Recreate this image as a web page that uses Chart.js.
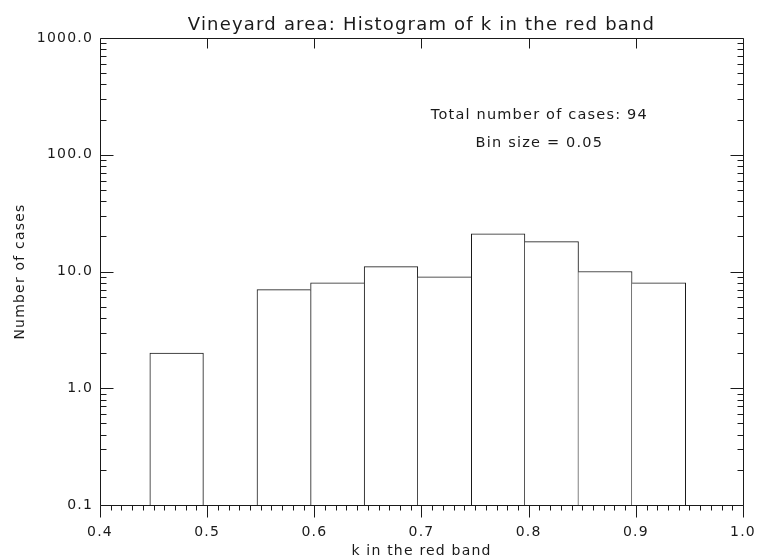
<!DOCTYPE html>
<html>
<head>
<meta charset="utf-8">
<script src="https://cdn.jsdelivr.net/npm/chart.js@4/dist/chart.umd.min.js"></script>
<style>
  html, body { margin: 0; padding: 0; background: #fff; }
  canvas { display: block; }
</style>
</head>
<body>
<canvas id="histo" width="758" height="560"></canvas>
<script>
// histogram bins: lower edge of each bin and number of cases in it
var binSize = 0.05;
var kLower = [0.4465, 0.5465, 0.5965, 0.6465, 0.6965, 0.7465, 0.7965, 0.8465, 0.8965];
var counts = [2, 7, 8, 11, 9, 21, 18, 10, 8];

// axis ticks
var xTicks = [0.4, 0.5, 0.6, 0.7, 0.8, 0.9, 1.0];
var yTicks = [0.1, 1, 10, 100, 1000];

var FONT = "'DejaVu Sans', sans-serif";
var INK = '#1a1a1a';
var SPACING = '1.2px';

var totalCases = counts.reduce(function (a, b) { return a + b; }, 0);

var points = kLower.map(function (k, i) {
    return { x: k + binSize / 2, y: counts[i] };
});

function adjacent(i, j) {
    return Math.abs(kLower[i] + binSize - kLower[j]) < 1e-6;
}

// draw shared bin edges only once, from the taller bar
function barBorder(ctx) {
    var i = ctx.dataIndex;
    if (i === undefined) return 1;
    var h = counts[i];
    var prevAdj = i > 0 && adjacent(i - 1, i);
    var nextAdj = i < counts.length - 1 && adjacent(i, i + 1);
    return {
        top: 1,
        bottom: 0,
        left: (prevAdj && counts[i - 1] >= h) ? 0 : 1,
        right: (nextAdj && counts[i + 1] > h) ? 0 : 1
    };
}

// wide lettering like the old plotting fonts
var spacing = {
    id: 'spacing',
    beforeLayout: function (chart) { chart.ctx.letterSpacing = SPACING; },
    beforeDraw: function (chart) { chart.ctx.letterSpacing = SPACING; }
};

// box and tick marks drawn IDL style
var frame = {
    id: 'frame',
    afterDraw: function (chart) {
        var ctx = chart.ctx;
        var a = chart.chartArea;
        var xs = chart.scales.x, ys = chart.scales.y;
        var L = Math.round(a.left) + 0.5, R = Math.round(a.right) + 0.5;
        var T = Math.round(a.top) + 0.5, B = Math.round(a.bottom) + 0.5;
        ctx.save();
        ctx.strokeStyle = INK;
        ctx.lineWidth = 1;

        ctx.beginPath();
        ctx.rect(L, T, R - L, B - T);
        ctx.stroke();

        // bottom: minor every 0.01, major every 0.1, pointing down
        ctx.beginPath();
        for (var m = 40; m <= 100; m++) {
            var px = Math.round(xs.getPixelForValue(m / 100)) + 0.5;
            var len = (m % 10 === 0) ? 12 : 5;
            ctx.moveTo(px, B);
            ctx.lineTo(px, B + len);
        }
        // top: major only, pointing in
        for (var t = 1; t < xTicks.length - 1; t++) {
            var tx = Math.round(xs.getPixelForValue(xTicks[t])) + 0.5;
            ctx.moveTo(tx, T);
            ctx.lineTo(tx, T + 10);
        }
        ctx.stroke();

        // left and right: decades long, 2..9 short
        ctx.beginPath();
        for (var d = 0; d < yTicks.length; d++) {
            for (var s = 1; s <= 9; s++) {
                var v = yTicks[d] * s;
                if (v > 1000.0001) break;
                var py = Math.round(ys.getPixelForValue(v)) + 0.5;
                var l = (s === 1) ? 13 : 6;
                ctx.moveTo(L, py);
                ctx.lineTo(L + l, py);
                ctx.moveTo(R, py);
                ctx.lineTo(R - l, py);
            }
        }
        ctx.stroke();

        // annotation
        ctx.fillStyle = INK;
        ctx.font = '14.5px ' + FONT;
        ctx.letterSpacing = SPACING;
        ctx.textAlign = 'center';
        ctx.textBaseline = 'middle';
        var cx = xs.getPixelForValue(0.81);
        ctx.fillText('Total number of cases: ' + totalCases, cx, ys.getPixelForValue(220));
        ctx.fillText('Bin size = ' + binSize.toFixed(2), cx, ys.getPixelForValue(126));
        ctx.restore();
    }
};

var chart = new Chart(document.getElementById('histo').getContext('2d'), {
    type: 'bar',
    data: {
        datasets: [{
            data: points,
            backgroundColor: '#ffffff',
            borderColor: INK,
            borderWidth: barBorder,
            borderSkipped: false,
            barPercentage: 1,
            categoryPercentage: 1
        }]
    },
    options: {
        responsive: false,
        animation: false,
        layout: { padding: { left: 0, right: 15, top: 0, bottom: 0 } },
        plugins: {
            legend: { display: false },
            tooltip: { enabled: false },
            title: {
                display: true,
                fullSize: false,
                text: 'Vineyard area: Histogram of k in the red band',
                color: INK,
                font: { family: FONT, size: 18, weight: 'normal' },
                padding: { top: 15, bottom: 1.4 }
            }
        },
        scales: {
            x: {
                type: 'linear',
                offset: false,
                min: 0.4,
                max: 1.0,
                grid: { display: false, drawTicks: false, offset: false },
                border: { display: false },
                afterBuildTicks: function (scale) {
                    scale.ticks = xTicks.map(function (v) { return { value: v }; });
                },
                afterFit: function (scale) {
                    scale.height = 55;
                    scale.paddingLeft = 0;
                    scale.paddingRight = 0;
                },
                ticks: {
                    padding: 19,
                    maxRotation: 0,
                    color: INK,
                    font: { family: FONT, size: 14 },
                    callback: function (v) { return Number(v).toFixed(1); }
                },
                title: {
                    display: true,
                    text: 'k in the red band',
                    color: INK,
                    font: { family: FONT, size: 14 },
                    padding: { top: 0, bottom: 0 }
                }
            },
            y: {
                type: 'logarithmic',
                min: 0.1,
                max: 1000,
                grid: { display: false, drawTicks: false },
                border: { display: false },
                afterBuildTicks: function (scale) {
                    scale.ticks = yTicks.map(function (v) { return { value: v }; });
                },
                afterFit: function (scale) { scale.width = 100; },
                ticks: {
                    padding: 7,
                    color: INK,
                    font: { family: FONT, size: 14 },
                    callback: function (v) { return Number(v).toFixed(1); }
                },
                title: {
                    display: true,
                    text: 'Number of cases',
                    color: INK,
                    font: { family: FONT, size: 14 },
                    padding: { top: 12, bottom: 0 }
                }
            }
        }
    },
    plugins: [spacing, frame]
});
</script>
</body>
</html>
